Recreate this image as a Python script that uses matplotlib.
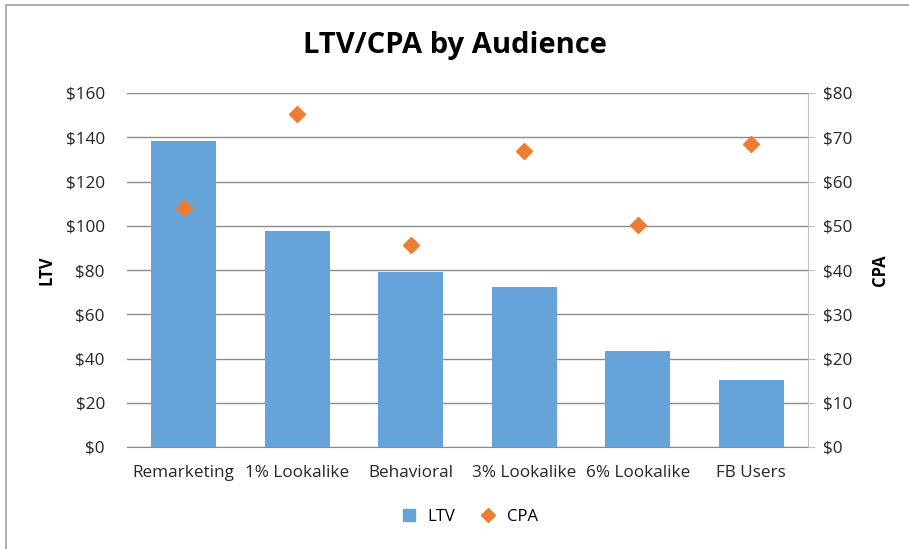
import numpy as np
import matplotlib
matplotlib.use("Agg")
import matplotlib.pyplot as plt
from matplotlib.patches import Rectangle
from matplotlib.lines import Line2D
from matplotlib.ticker import FuncFormatter

plt.rcParams["font.family"] = ["Open Sans", "DejaVu Sans"]

audiences = ["Remarketing", "1% Lookalike", "Behavioral", "3% Lookalike",
             "6% Lookalike", "FB Users"]
ltv = [138.5, 97.5, 79, 72.5, 43.5, 30.5]
cpa = [54, 75.2, 45.7, 67, 50.1, 68.5]
ltv_ticks = list(range(0, 161, 20))
cpa_ticks = list(range(0, 81, 10))

BLUE = "#66A3D9"
ORANGE = "#ED7D31"
GRID = "#8C8C8C"
TXT = "#262626"

fig = plt.figure(figsize=(9.09, 5.49), dpi=100)
# chart frame (cropped at right and bottom in the reference)
fig.patches.append(Rectangle((6 / 909, -0.1), 1.2, 1 - 5 / 549 + 0.1,
                             transform=fig.transFigure, fill=False,
                             edgecolor="#A0A0A0", lw=1.2))

ax = fig.add_axes([127 / 909, 1 - 447 / 549, (808 - 127) / 909, (447 - 93) / 549])
x = np.arange(len(audiences))
ax.bar(x, ltv, width=0.57, color=BLUE, zorder=2)
ax.set_xlim(-0.5, len(audiences) - 0.5)
ax.set_ylim(0, 160)
ax.set_yticks(ltv_ticks)
ax.yaxis.set_major_formatter(FuncFormatter(lambda v, p: f"${v:.0f}"))
ax.set_xticks(x)
ax.set_xticklabels(audiences)
ax.grid(axis="y", color=GRID, lw=1, zorder=0)
ax.set_axisbelow(True)
for s in ["left", "top", "right"]:
    ax.spines[s].set_visible(False)
ax.spines["bottom"].set_color(GRID)
ax.tick_params(axis="both", length=0, labelsize=12.3, colors=TXT)
ax.tick_params(axis="y", pad=16)
ax.tick_params(axis="x", pad=13)
ax.set_ylabel("LTV", fontsize=12, fontweight="bold", labelpad=7)

ax2 = ax.twinx()
ax2.plot(x, cpa, linestyle="none", marker="D", markersize=8.5, color=ORANGE, zorder=3)
ax2.set_ylim(0, 80)
ax2.set_yticks(cpa_ticks)
ax2.yaxis.set_major_formatter(FuncFormatter(lambda v, p: f"${v:.0f}"))
for s in ["left", "top", "bottom"]:
    ax2.spines[s].set_visible(False)
ax2.spines["right"].set_color("#BFBFBF")
ax2.tick_params(axis="y", length=5, color="#BFBFBF", labelsize=12.3, labelcolor=TXT, pad=6)
ax2.set_ylabel("CPA", fontsize=12, fontweight="bold", labelpad=13)

fig.text(0.5, 1 - 45 / 549, "LTV/CPA by Audience", ha="center", va="center",
         fontsize=21, fontweight="bold", color="black")

handles = [Line2D([], [], linestyle="none", marker="s", markersize=8, color=BLUE),
           Line2D([], [], linestyle="none", marker="D", markersize=7, color=ORANGE)]
fig.legend(handles, ["LTV", "CPA"], loc="center", bbox_to_anchor=(465 / 909, 1 - 517 / 549),
           ncol=2, frameon=False, fontsize=12, handletextpad=0.1, columnspacing=1.0)

fig.savefig("out.png", dpi=100)
